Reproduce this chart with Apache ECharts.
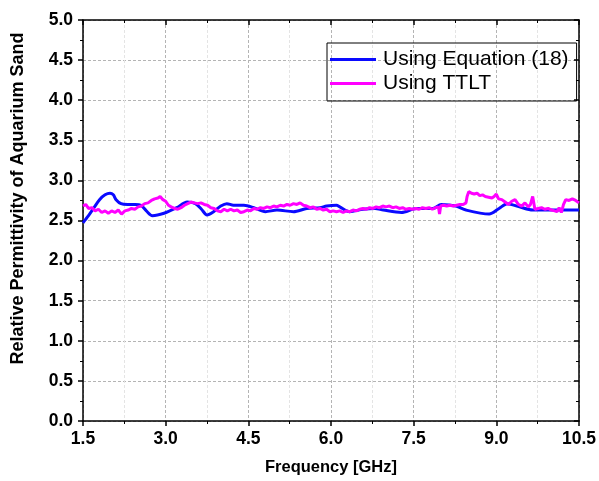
<!DOCTYPE html>
<html><head><meta charset="utf-8">
<script src="https://cdn.jsdelivr.net/npm/echarts@6/dist/echarts.min.js"></script>
<style>html,body{margin:0;padding:0;background:#fff}#c{width:599px;height:481px}</style>
</head><body><div id="c"></div>
<script>
const xTicks = ['1.5','3.0','4.5','6.0','7.5','9.0','10.5'];
const yTicks = ['0.0','0.5','1.0','1.5','2.0','2.5','3.0','3.5','4.0','4.5','5.0'];
const seriesNames = ['Using Equation (18)', 'Using TTLT'];

const freqEq = [1.5,1.52,1.6,1.7,1.8,1.9,1.99,2.05,2.1,2.19,2.31,2.45,2.55,2.65,2.76,2.97,3.2,3.39,3.54,3.65,3.75,3.87,4.0,4.11,4.23,4.42,4.6,4.81,5.02,5.32,5.56,5.8,5.92,6.1,6.16,6.34,6.58,6.8,6.95,7.28,7.55,7.85,8.0,8.27,8.45,8.87,9.05,9.2,9.42,9.66,10.08,10.5];
const epsEq  = [2.47,2.49,2.56,2.66,2.76,2.82,2.84,2.82,2.76,2.71,2.70,2.70,2.69,2.62,2.56,2.59,2.66,2.73,2.71,2.64,2.57,2.61,2.68,2.71,2.69,2.69,2.66,2.61,2.63,2.61,2.65,2.66,2.68,2.69,2.67,2.61,2.64,2.65,2.63,2.60,2.65,2.65,2.70,2.68,2.63,2.58,2.65,2.71,2.67,2.63,2.63,2.63];

const freqTtlt = [1.50,1.55,1.60,1.66,1.72,1.78,1.84,1.90,1.96,2.02,2.08,2.14,2.20,2.26,2.32,2.38,2.44,2.50,2.56,2.62,2.68,2.74,2.80,2.86,2.90,2.95,3.00,3.05,3.10,3.16,3.22,3.28,3.34,3.40,3.46,3.52,3.58,3.64,3.70,3.76,3.82,3.88,3.94,4.00,4.06,4.12,4.18,4.24,4.30,4.36,4.42,4.48,4.54,4.60,4.66,4.72,4.78,4.84,4.90,4.96,5.02,5.08,5.14,5.20,5.26,5.32,5.38,5.44,5.50,5.56,5.62,5.68,5.74,5.80,5.86,5.92,5.98,6.04,6.10,6.16,6.22,6.28,6.34,6.40,6.46,6.52,6.58,6.64,6.70,6.76,6.82,6.88,6.94,7.00,7.06,7.12,7.18,7.24,7.30,7.36,7.42,7.48,7.54,7.60,7.66,7.72,7.78,7.84,7.90,7.95,7.97,7.99,8.04,8.10,8.16,8.22,8.28,8.34,8.40,8.45,8.47,8.50,8.55,8.60,8.65,8.70,8.75,8.80,8.86,8.92,8.96,9.00,9.04,9.10,9.16,9.22,9.28,9.34,9.40,9.46,9.52,9.58,9.62,9.66,9.70,9.76,9.82,9.88,9.94,10.00,10.06,10.10,10.14,10.18,10.22,10.26,10.32,10.38,10.44,10.50];
const epsTtlt  = [2.68,2.70,2.65,2.66,2.62,2.64,2.60,2.62,2.59,2.62,2.60,2.63,2.58,2.62,2.63,2.65,2.64,2.67,2.68,2.71,2.72,2.75,2.77,2.78,2.80,2.76,2.74,2.69,2.67,2.65,2.64,2.66,2.69,2.71,2.73,2.72,2.71,2.72,2.70,2.69,2.66,2.65,2.62,2.61,2.64,2.62,2.64,2.62,2.63,2.60,2.61,2.63,2.62,2.65,2.64,2.66,2.65,2.67,2.66,2.68,2.67,2.69,2.68,2.70,2.69,2.71,2.70,2.72,2.69,2.68,2.66,2.67,2.64,2.65,2.63,2.64,2.61,2.62,2.61,2.62,2.60,2.62,2.61,2.63,2.62,2.64,2.65,2.64,2.66,2.65,2.67,2.66,2.68,2.67,2.68,2.66,2.67,2.65,2.66,2.64,2.65,2.64,2.65,2.64,2.66,2.65,2.66,2.64,2.66,2.67,2.58,2.68,2.69,2.68,2.69,2.68,2.69,2.70,2.70,2.72,2.80,2.86,2.84,2.83,2.84,2.81,2.82,2.80,2.79,2.78,2.80,2.83,2.77,2.76,2.73,2.70,2.74,2.76,2.70,2.68,2.72,2.67,2.70,2.80,2.64,2.65,2.66,2.64,2.65,2.63,2.62,2.61,2.66,2.60,2.70,2.76,2.75,2.77,2.75,2.72];

const zip = (a, b) => a.map((v, i) => [v, b[i]]);
const font = 'Liberation Sans, Arial, sans-serif';

const chart = echarts.init(document.getElementById('c'), null, {renderer: 'canvas'});
const majorSplit = {show: true, lineStyle: {color: '#b4b4b4', type: [3, 2], width: 1}};
const minorSplit = {show: true, lineStyle: {color: '#e4e4e4', type: [3, 2], width: 1}};
const axLine = {show: true, onZero: false, lineStyle: {color: '#000', width: 1.5}};
const labelStyle = {fontFamily: font, fontSize: 17.5, fontWeight: 'bold', color: '#000'};

chart.setOption({
  animation: false,
  backgroundColor: '#fff',
  grid: {left: 83, right: 19, top: 20, bottom: 60, containLabel: false},
  legend: {
    orient: 'vertical', left: 327, top: 43,
    borderColor: '#000', borderWidth: 1,
    padding: [6, 8, 7, 3], itemGap: 3,
    itemWidth: 46, itemHeight: 3, icon: 'rect',
    textStyle: {fontFamily: font, fontSize: 21, color: '#000', padding: [0, 0, 0, 2]},
    data: seriesNames
  },
  xAxis: [{
    type: 'value', min: 1.5, max: 10.5, interval: 1.5,
    name: 'Frequency [GHz]', nameLocation: 'middle', nameGap: 38,
    nameTextStyle: {fontFamily: font, fontSize: 16.5, fontWeight: 'bold', color: '#000'},
    axisLine: axLine,
    axisTick: {show: true, inside: false, length: 5, lineStyle: {color: '#000', width: 1.5}},
    minorTick: {show: true, splitNumber: 2, length: 3, lineStyle: {color: '#000', width: 1}},
    axisLabel: Object.assign({margin: 9, formatter: (v) => xTicks[Math.round((v - 1.5) / 1.5)]}, labelStyle),
    splitLine: majorSplit, minorSplitLine: minorSplit
  }, {
    type: 'value', position: 'top', min: 1.5, max: 10.5, interval: 1.5,
    axisLine: axLine,
    axisTick: {show: true, inside: true, length: 5, lineStyle: {color: '#000', width: 1.5}},
    minorTick: {show: true, splitNumber: 2, length: 3, lineStyle: {color: '#000', width: 1}},
    axisLabel: {show: false}, splitLine: {show: false}
  }],
  yAxis: [{
    type: 'value', min: 0, max: 5, interval: 0.5,
    name: 'Relative Permittivity of Aquarium Sand', nameLocation: 'middle', nameGap: 56,
    nameTextStyle: {fontFamily: font, fontSize: 18, fontWeight: 'bold', color: '#000', padding: [0, 0, 0, 44]},
    axisLine: axLine,
    axisTick: {show: true, inside: false, length: 5, lineStyle: {color: '#000', width: 1.5}},
    minorTick: {show: true, splitNumber: 2, length: 3, lineStyle: {color: '#000', width: 1}},
    axisLabel: Object.assign({margin: 10, formatter: (v) => yTicks[Math.round(v / 0.5)]}, labelStyle),
    splitLine: majorSplit, minorSplitLine: {show: false}
  }, {
    type: 'value', position: 'right', min: 0, max: 5, interval: 0.5,
    axisLine: axLine,
    axisTick: {show: true, inside: true, length: 5, lineStyle: {color: '#000', width: 1.5}},
    minorTick: {show: true, splitNumber: 2, length: 3, lineStyle: {color: '#000', width: 1}},
    axisLabel: {show: false}, splitLine: {show: false}
  }],
  series: [{
    name: seriesNames[0], type: 'line', showSymbol: false, symbol: 'none', smooth: 0.3,
    data: zip(freqEq, epsEq), color: '#0a0aff',
    lineStyle: {width: 3, color: '#0a0aff'}
  }, {
    name: seriesNames[1], type: 'line', showSymbol: false, symbol: 'none',
    data: zip(freqTtlt, epsTtlt), color: '#ff00ff',
    lineStyle: {width: 3, color: '#ff00ff'}
  }]
});
</script></body></html>
